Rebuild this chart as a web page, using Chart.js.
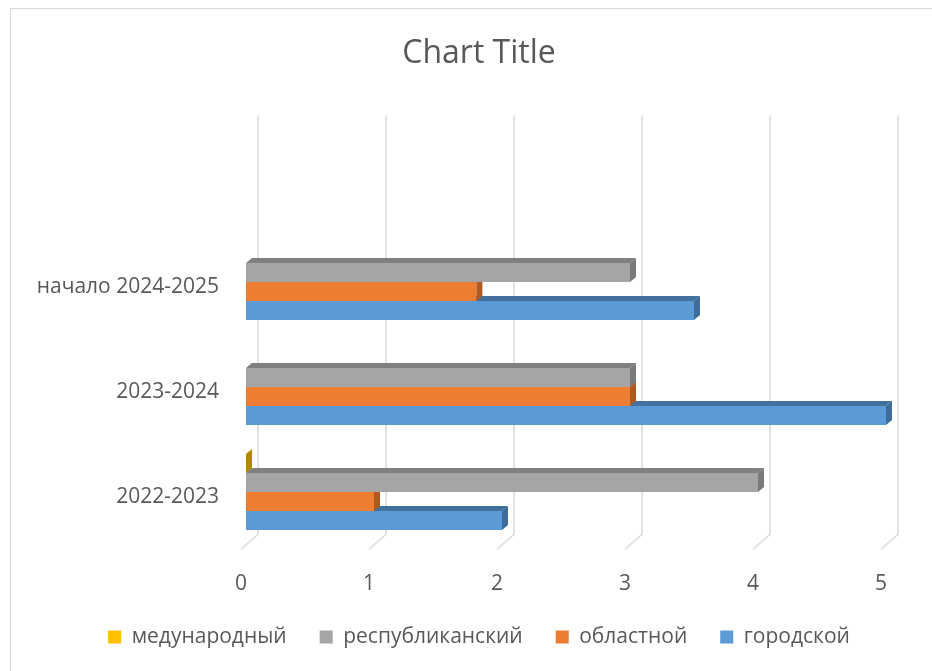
<!DOCTYPE html>
<html>
<head>
<meta charset="utf-8">
<script src="https://cdn.jsdelivr.net/npm/chart.js"></script>
<style>
  html, body { margin: 0; padding: 0; background: #fff; overflow: hidden; }
  #frame { position: absolute; left: 10px; top: 8px; width: 1000px; height: 1000px; border: 1px solid #d9d9d9; }
  #wrap { position: absolute; left: 0; top: 0; width: 958px; height: 671px; }
</style>
</head>
<body>
<div id="frame"></div>
<div id="wrap"><canvas id="myChart"></canvas></div>
<script>
// Chart data
var categories = ['2022-2023', '2023-2024', 'начало 2024-2025'];
var mezhdunarodny = [0, null, null];
var respublikansky = [4, 3, 3];
var oblastnoy = [1, 3, 1.8];
var gorodskoy = [2, 5, 3.5];
var xTicks = [0, 1, 2, 3, 4, 5];

var textColor = '#595959';
var fontName = '"Open Sans", sans-serif';

// darker shades for the 3d faces
var shades = {
    '#FFC000': { top: '#c79600', side: '#b38700' },
    '#A5A5A5': { top: '#7f7f7f', side: '#7a7a7a' },
    '#ED7D31': { top: '#b5602a', side: '#ae5a21' },
    '#5B9BD5': { top: '#41719c', side: '#3d6c98' }
};

var depth = { dx: 6, dy: 5 };

// back wall gridlines with a little slanted foot
var gridPlugin = {
    id: 'grid3d',
    beforeDatasetsDraw: function (chart) {
        var ctx = chart.ctx;
        var area = chart.chartArea;
        var xs = chart.scales.x;
        ctx.save();
        ctx.strokeStyle = '#d9d9d9';
        ctx.lineWidth = 1.5;
        xTicks.forEach(function (v) {
            var px = xs.getPixelForValue(v);
            ctx.beginPath();
            ctx.moveTo(px + 12, area.top - 114);
            ctx.lineTo(px + 12, area.bottom - 10);
            ctx.lineTo(px - 5, area.bottom + 4.5);
            ctx.stroke();
        });
        ctx.restore();
    }
};

// top and side faces for each bar
var barPlugin = {
    id: 'bars3d',
    afterDatasetDraw: function (chart, args) {
        var ctx = chart.ctx;
        var meta = args.meta;
        var ds = chart.data.datasets[args.index];
        var sh = shades[ds.backgroundColor];
        ctx.save();
        meta.data.forEach(function (bar, i) {
            if (ds.data[i] === null) return;
            var p = bar.getProps(['x', 'y', 'base', 'height'], true);
            var top = p.y - p.height / 2;
            var bottom = p.y + p.height / 2;
            ctx.fillStyle = sh.top;
            ctx.beginPath();
            ctx.moveTo(p.base, top);
            ctx.lineTo(p.base + depth.dx, top - depth.dy);
            ctx.lineTo(p.x + depth.dx, top - depth.dy);
            ctx.lineTo(p.x, top);
            ctx.closePath();
            ctx.fill();
            ctx.fillStyle = sh.side;
            ctx.beginPath();
            ctx.moveTo(p.x, top);
            ctx.lineTo(p.x + depth.dx, top - depth.dy);
            ctx.lineTo(p.x + depth.dx, bottom - depth.dy);
            ctx.lineTo(p.x, bottom);
            ctx.closePath();
            ctx.fill();
        });
        ctx.restore();
    }
};

var ctx = document.getElementById('myChart').getContext('2d');
var myChart = new Chart(ctx, {
    type: 'bar',
    data: {
        labels: categories,
        datasets: [{
            label: 'медународный',
            data: mezhdunarodny,
            backgroundColor: '#FFC000'
        }, {
            label: 'республиканский',
            data: respublikansky,
            backgroundColor: '#A5A5A5'
        }, {
            label: 'областной',
            data: oblastnoy,
            backgroundColor: '#ED7D31'
        }, {
            label: 'городской',
            data: gorodskoy,
            backgroundColor: '#5B9BD5'
        }]
    },
    options: {
        indexAxis: 'y',
        responsive: true,
        maintainAspectRatio: false,
        animation: false,
        datasets: {
            bar: {
                categoryPercentage: 0.724,
                barPercentage: 1,
                borderWidth: 0
            }
        },
        layout: {
            padding: { left: 10, right: 10, top: 0, bottom: 13.5 }
        },
        plugins: {
            title: {
                display: true,
                text: 'Chart Title',
                color: textColor,
                font: { family: fontName, size: 32, weight: 'normal' },
                padding: { top: 35, bottom: 156.1 }
            },
            legend: {
                position: 'bottom',
                labels: {
                    color: textColor,
                    font: { family: fontName, size: 21 },
                    boxWidth: 13,
                    boxHeight: 13,
                    padding: 33
                }
            },
            tooltip: { enabled: false }
        },
        scales: {
            x: {
                min: 0,
                max: 5,
                grid: { display: false },
                border: { display: false },
                ticks: {
                    stepSize: 1,
                    color: textColor,
                    padding: 19,
                    labelOffset: -5,
                    font: { family: fontName, size: 21 }
                },
                afterFit: function (s) { s.height = 49; }
            },
            y: {
                reverse: true,
                grid: { display: false, drawTicks: false },
                border: { display: false },
                ticks: {
                    color: textColor,
                    padding: 27,
                    labelOffset: 5,
                    font: { family: fontName, size: 21 }
                },
                afterFit: function (s) { s.width = 236; }
            },
            // empty right axis, only keeps the title and legend centred like the original
            spacer: {
                type: 'category',
                axis: 'y',
                position: 'right',
                labels: categories,
                grid: { display: false, drawTicks: false },
                border: { display: false },
                ticks: { display: false },
                afterFit: function (s) { s.width = 62; }
            }
        }
    },
    plugins: [gridPlugin, barPlugin]
});
</script>
</body>
</html>
